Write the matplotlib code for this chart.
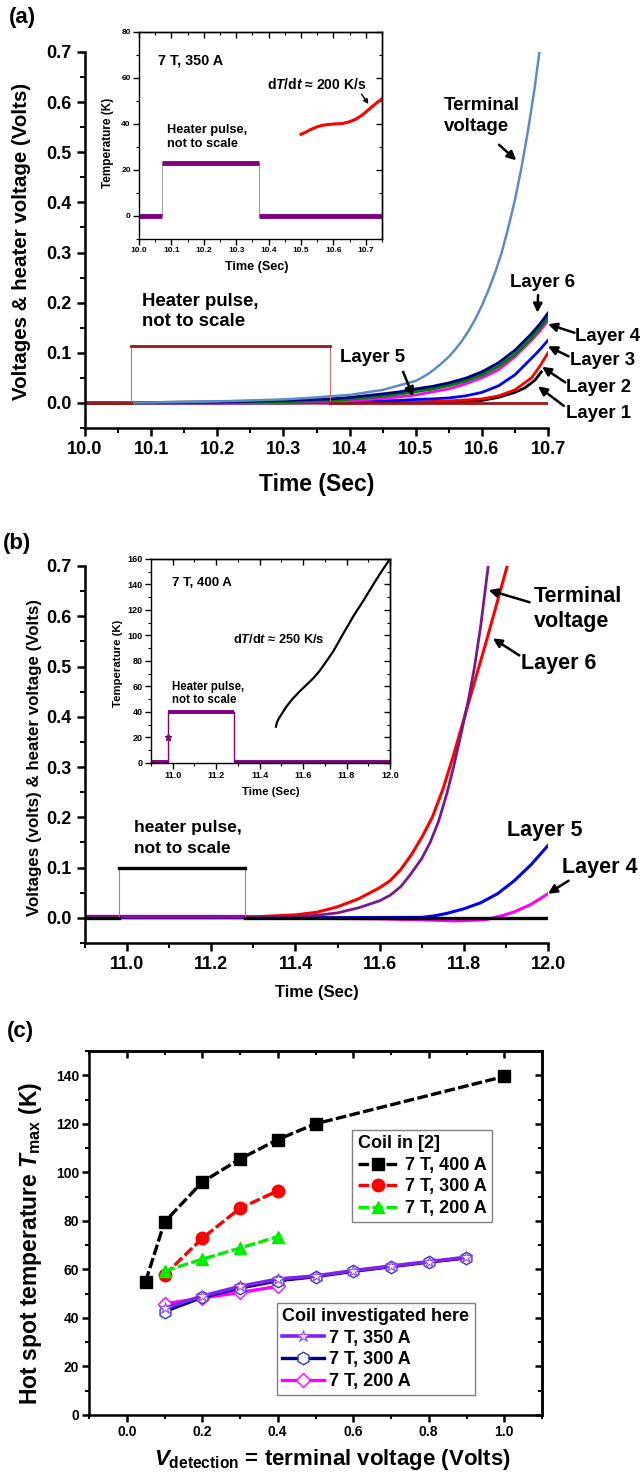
import matplotlib
matplotlib.use('Agg')
import matplotlib.pyplot as plt
from matplotlib.ticker import MultipleLocator, FormatStrFormatter

plt.rcParams['font.family'] = ['Liberation Sans', 'DejaVu Sans']
plt.rcParams['font.weight'] = 'bold'
plt.rcParams['axes.labelweight'] = 'bold'
plt.rcParams['mathtext.fontset'] = 'custom'
plt.rcParams['mathtext.rm'] = 'Liberation Sans:bold'
plt.rcParams['mathtext.it'] = 'Liberation Sans:italic:bold'
plt.rcParams['mathtext.bf'] = 'Liberation Sans:bold'

# ------------------------------------------------------------------ data
# Panel (a): 7 T, 350 A
a_layer_t = [10.0, 10.1, 10.2, 10.3, 10.37, 10.4, 10.45, 10.475, 10.5, 10.525, 10.55, 10.575,
             10.6, 10.625, 10.65, 10.675, 10.6875, 10.7]
a_layer6 = [0.0, 0.001, 0.002, 0.005, 0.008, 0.011, 0.018, 0.022, 0.028, 0.033, 0.040, 0.049,
            0.062, 0.080, 0.105, 0.138, 0.157, 0.179]
a_layer5 = [0.0, 0.0005, 0.001, 0.003, 0.005, 0.008, 0.014, 0.018, 0.023, 0.028, 0.035, 0.044,
            0.056, 0.073, 0.097, 0.130, 0.149, 0.171]
a_layer4 = [0.0, 0.0, 0.0, 0.001, 0.002, 0.004, 0.009, 0.012, 0.016, 0.022, 0.028, 0.038,
            0.050, 0.066, 0.092, 0.125, 0.143, 0.164]
a_layer3 = [0.0, 0.0, 0.0, 0.0, 0.001, 0.002, 0.004, 0.005, 0.007, 0.008, 0.010, 0.014,
            0.021, 0.034, 0.056, 0.089, 0.106, 0.125]
a_layer2 = [0.0, 0.0, 0.0, 0.0, 0.0, 0.0, 0.001, 0.0015, 0.002, 0.003, 0.004, 0.006,
            0.008, 0.014, 0.026, 0.050, 0.073, 0.100]
a_layer1_t = [10.0, 10.3, 10.4, 10.5, 10.55, 10.6, 10.625, 10.65, 10.665, 10.68, 10.69]
a_layer1 = [0.0, 0.0, 0.0, 0.001, 0.002, 0.005, 0.011, 0.021, 0.030, 0.045, 0.062]
a_term_t = [10.0, 10.1, 10.2, 10.3, 10.35, 10.4, 10.45, 10.5, 10.51, 10.52, 10.53, 10.54, 10.55,
            10.56, 10.57, 10.58, 10.59, 10.6, 10.61, 10.62, 10.63, 10.64, 10.65, 10.66, 10.67,
            10.68, 10.687]
a_term_v = [0.0, 0.001, 0.003, 0.007, 0.011, 0.016, 0.026, 0.044, 0.051, 0.059, 0.069, 0.080,
            0.092, 0.107, 0.124, 0.144, 0.167, 0.194, 0.225, 0.260, 0.300, 0.350, 0.405, 0.470,
            0.545, 0.630, 0.700]
a_heater_t = [10.0, 10.07, 10.07, 10.37, 10.37, 10.7]
a_heater_v = [0.0, 0.0, 0.113, 0.113, 0.0, 0.0]
# inset (a)
ai_heater_t = [10.0, 10.07, 10.07, 10.37, 10.37, 10.75]
ai_heater_T = [0.0, 0.0, 23.0, 23.0, 0.0, 0.0]
ai_temp_t = [10.5, 10.515, 10.53, 10.55, 10.565, 10.58, 10.6, 10.627, 10.65, 10.668, 10.69,
             10.71, 10.73, 10.75]
ai_temp_T = [35.5, 36.5, 37.6, 38.8, 39.4, 39.7, 40.0, 40.2, 41.0, 42.0, 44.0, 46.4, 48.8, 51.0]

# Panel (b): 7 T, 400 A
b_term_t = [10.9, 11.0, 11.1, 11.2, 11.3, 11.4, 11.45, 11.5, 11.55, 11.6, 11.625, 11.65, 11.672,
            11.7, 11.72, 11.74, 11.76, 11.775, 11.79, 11.81, 11.825, 11.84, 11.858]
b_term_v = [0.003, 0.003, 0.003, 0.003, 0.002, 0.003, 0.005, 0.010, 0.020, 0.034, 0.045, 0.062,
            0.085, 0.118, 0.150, 0.192, 0.248, 0.298, 0.353, 0.430, 0.497, 0.580, 0.700]
b_layer6_t = [10.9, 11.0, 11.1, 11.2, 11.3, 11.4, 11.45, 11.5, 11.55, 11.6, 11.625, 11.65,
              11.675, 11.7, 11.725, 11.75, 11.775, 11.8, 11.825, 11.85, 11.875, 11.903]
b_layer6 = [0.002, 0.002, 0.002, 0.002, 0.002, 0.006, 0.011, 0.022, 0.038, 0.060, 0.074, 0.096,
            0.125, 0.160, 0.200, 0.255, 0.322, 0.395, 0.468, 0.540, 0.615, 0.700]
b_layer5_t = [10.9, 11.3, 11.7, 11.73, 11.76, 11.8, 11.84, 11.88, 11.92, 11.96, 12.0]
b_layer5 = [0.0, 0.0, 0.001, 0.004, 0.009, 0.018, 0.030, 0.048, 0.074, 0.106, 0.144]
b_layer4_t = [10.9, 11.28, 11.3, 11.6, 11.7, 11.78, 11.85, 11.894, 11.92, 11.96, 12.0]
b_layer4 = [0.003, 0.003, 0.0, -0.002, -0.004, -0.006, -0.004, 0.005, 0.012, 0.027, 0.048]
b_heater_t = [10.9, 10.98, 10.98, 11.28, 11.28, 12.0]
b_heater_v = [0.0, 0.0, 0.1, 0.1, 0.0, 0.0]
# inset (b)
bi_heater_t = [10.9, 10.98, 10.98, 10.98, 11.28, 11.28, 12.0]
bi_heater_T = [1.0, 1.0, 20.0, 40.0, 40.0, 1.0, 1.0]
bi_temp_t = [11.475, 11.48, 11.49, 11.5, 11.524, 11.55, 11.586, 11.62, 11.647, 11.675, 11.7,
             11.739, 11.78, 11.831, 11.88, 11.923, 11.96, 12.0]
bi_temp_T = [28.5, 32.0, 35.5, 38.0, 44.4, 50.0, 56.5, 62.0, 66.5, 72.0, 78.0, 87.6, 100.0,
             115.0, 128.0, 140.0, 150.0, 160.0]

# Panel (c)
c_v400 = [0.05, 0.1, 0.2, 0.3, 0.4, 0.5, 1.0]
c_T400 = [55.0, 79.5, 96.0, 105.5, 113.5, 120.0, 139.5]
c_v300 = [0.1, 0.2, 0.3, 0.4]
c_T300 = [57.7, 72.8, 85.2, 92.4]
c_v200 = [0.1, 0.2, 0.3, 0.4]
c_T200 = [59.3, 64.2, 68.8, 73.5]
h_v350 = [0.1, 0.2, 0.3, 0.4, 0.5, 0.6, 0.7, 0.8, 0.9]
h_T350 = [44.0, 49.0, 53.0, 56.0, 57.3, 59.5, 61.4, 63.2, 65.0]
h_v300 = [0.1, 0.2, 0.3, 0.4, 0.5, 0.6, 0.7, 0.8, 0.9]
h_T300 = [42.6, 48.5, 52.3, 55.3, 57.0, 59.2, 61.1, 63.0, 64.7]
h_v200 = [0.1, 0.2, 0.3, 0.4]
h_T200 = [45.8, 48.2, 50.5, 53.0]

# ------------------------------------------------------------------ figure
W, H = 640, 1479
fig = plt.figure(figsize=(W / 100, H / 100), dpi=100)


def add_ax(l, t, r, b):
    return fig.add_axes([l / W, 1 - b / H, (r - l) / W, (b - t) / H])


def ftext(x, y, s, **kw):
    return fig.text(x / W, 1 - y / H, s, ha=kw.pop('ha', 'center'), va=kw.pop('va', 'center'), **kw)


def open_axes(ax, xmaj, xmin, ymaj, ymin, size, lw, xfmt, yfmt):
    for s in ('top', 'right'):
        ax.spines[s].set_visible(False)
    for s in ('left', 'bottom'):
        ax.spines[s].set_linewidth(lw)
    ax.xaxis.set_major_locator(MultipleLocator(xmaj))
    ax.xaxis.set_minor_locator(MultipleLocator(xmin))
    ax.yaxis.set_major_locator(MultipleLocator(ymaj))
    ax.yaxis.set_minor_locator(MultipleLocator(ymin))
    ax.xaxis.set_major_formatter(FormatStrFormatter(xfmt))
    ax.yaxis.set_major_formatter(FormatStrFormatter(yfmt))
    ax.tick_params(which='major', direction='out', length=6, width=lw, labelsize=size)
    ax.tick_params(which='minor', direction='out', length=3.5, width=lw * 0.8)
    for lab in ax.get_xticklabels() + ax.get_yticklabels():
        lab.set_fontweight('bold')


def box_axes(ax, xmaj, xmin, ymaj, ymin, size, lw, xfmt, yfmt, mlen=4, nlen=2.5):
    for s in ax.spines.values():
        s.set_linewidth(lw)
    ax.xaxis.set_major_locator(MultipleLocator(xmaj))
    ax.xaxis.set_minor_locator(MultipleLocator(xmin))
    ax.yaxis.set_major_locator(MultipleLocator(ymaj))
    ax.yaxis.set_minor_locator(MultipleLocator(ymin))
    ax.xaxis.set_major_formatter(FormatStrFormatter(xfmt))
    ax.yaxis.set_major_formatter(FormatStrFormatter(yfmt))
    ax.tick_params(which='major', direction='out', length=mlen, width=lw, labelsize=size, pad=2)
    ax.tick_params(which='minor', direction='out', length=nlen, width=lw * 0.8)
    for lab in ax.get_xticklabels() + ax.get_yticklabels():
        lab.set_fontweight('bold')
    sx = ax.secondary_xaxis('top')
    sx.xaxis.set_major_locator(MultipleLocator(xmaj))
    sx.xaxis.set_minor_locator(MultipleLocator(xmin))
    sx.tick_params(which='major', direction='in', length=mlen, width=lw, labeltop=False)
    sx.tick_params(which='minor', direction='in', length=nlen, width=lw * 0.8)
    sx.spines['top'].set_linewidth(lw)
    sy = ax.secondary_yaxis('right')
    sy.yaxis.set_major_locator(MultipleLocator(ymaj))
    sy.yaxis.set_minor_locator(MultipleLocator(ymin))
    sy.tick_params(which='major', direction='in', length=mlen, width=lw, labelright=False)
    sy.tick_params(which='minor', direction='in', length=nlen, width=lw * 0.8)
    sy.spines['right'].set_linewidth(lw)


arrow = dict(arrowstyle='-|>', color='black', lw=1.8, mutation_scale=13, shrinkA=0, shrinkB=0)
small_arrow = dict(arrowstyle='-|>', color='black', lw=1.0, mutation_scale=7, shrinkA=0, shrinkB=0)

# ================================================================== panel (a)
ax = add_ax(85, 52, 548, 428)
ax.set_xlim(10.0, 10.7)
ax.set_ylim(-0.05, 0.7)
open_axes(ax, 0.1, 0.05, 0.1, 0.05, 13, 1.8, '%.1f', '%.1f')

ax.plot(a_layer1_t, a_layer1, color='black', lw=2.0)
ax.plot(a_layer_t, a_layer2, color='#ff0000', lw=2.0)
ax.plot(a_layer_t, a_layer3, color='#0000ff', lw=2.0)
ax.plot(a_layer_t, a_layer4, color='#ff00ff', lw=2.0)
ax.plot(a_layer_t, a_layer5, color='#008000', lw=2.4)
ax.plot(a_layer_t, a_layer6, color='#000080', lw=2.0)
ax.plot(a_term_t, a_term_v, color='#5b8cc8', lw=1.8)
ax.plot(a_heater_t, a_heater_v, color='#c87070', lw=0.8)
for i in (0, 2, 4):
    ax.plot(a_heater_t[i:i + 2], a_heater_v[i:i + 2], color='#9b1515', lw=2.0)

ax.text(10.086, 0.183, 'Heater pulse,\nnot to scale', fontsize=13.4, ha='left', va='center',
        linespacing=1.25)
ax.text(10.543, 0.573, 'Terminal\nvoltage', fontsize=13.4, ha='left', va='center', linespacing=1.3)
ax.annotate('', xy=(10.652, 0.484), xytext=(10.626, 0.515), arrowprops=arrow)
ax.text(10.691, 0.240, 'Layer 6', fontsize=13.4, ha='center', va='center')
ax.annotate('', xy=(10.684, 0.180), xytext=(10.685, 0.215), arrowprops=arrow)
ax.text(10.741, 0.132, 'Layer 4', fontsize=13.4, ha='left', va='center', clip_on=False)
ax.annotate('', xy=(10.700, 0.157), xytext=(10.740, 0.140), arrowprops=arrow, annotation_clip=False)
ax.text(10.733, 0.084, 'Layer 3', fontsize=13.4, ha='left', va='center')
ax.annotate('', xy=(10.700, 0.113), xytext=(10.731, 0.093), arrowprops=arrow, annotation_clip=False)
ax.text(10.727, 0.031, 'Layer 2', fontsize=13.4, ha='left', va='center')
ax.annotate('', xy=(10.691, 0.072), xytext=(10.726, 0.041), arrowprops=arrow, annotation_clip=False)
ax.text(10.727, -0.021, 'Layer 1', fontsize=13.4, ha='left', va='center')
ax.annotate('', xy=(10.685, 0.033), xytext=(10.724, -0.006), arrowprops=arrow, annotation_clip=False)
ax.text(10.386, 0.090, 'Layer 5', fontsize=13.4, ha='left', va='center')
ax.annotate('', xy=(10.496, 0.013), xytext=(10.481, 0.062), arrowprops=arrow)

ftext(317, 485, 'Time (Sec)', fontsize=16.5, fontweight='bold')
ftext(22, 241, 'Voltages & heater voltage (Volts)', fontsize=14.8, fontweight='bold', rotation=90)
ftext(22, 18, '(a)', fontsize=16, fontweight='bold')

# inset (a)
ia = add_ax(139, 32, 382, 239)
ia.set_xlim(10.0, 10.75)
ia.set_ylim(-10, 80)
box_axes(ia, 0.1, 0.05, 20, 10, 6, 1.0, '%.1f', '%d')
ia.plot(ai_heater_t, ai_heater_T, color='#a0a0a0', lw=0.7)
for i in (0, 2, 4):
    ia.plot(ai_heater_t[i:i + 2], ai_heater_T[i:i + 2], color='#800080', lw=3.5, solid_capstyle='butt')
ia.plot(ai_temp_t, ai_temp_T, color='#ff0000', lw=2.2)
ia.text(10.059, 67.8, '7 T, 350 A', fontsize=10.4, ha='left', va='center')
ia.text(10.086, 34.4, 'Heater pulse,\nnot to scale', fontsize=9.2, ha='left', va='center',
        linespacing=1.2)
ia.text(10.395, 57, 'd$T$/d$t$ ≈ 200 K/s', fontsize=10, ha='left', va='center')
ia.annotate('', xy=(10.708, 48.7), xytext=(10.687, 53.0), arrowprops=small_arrow)
ftext(257, 267, 'Time (Sec)', fontsize=9.1, fontweight='bold')
ftext(108, 143, 'Temperature (K)', fontsize=8.5, fontweight='bold', rotation=90)

# ================================================================== panel (b)
bx = add_ax(85, 566, 548, 943)
bx.set_xlim(10.9, 12.0)
bx.set_ylim(-0.05, 0.7)
open_axes(bx, 0.2, 0.1, 0.1, 0.05, 13, 1.8, '%.1f', '%.1f')

bx.plot(b_layer4_t, b_layer4, color='#ff00ff', lw=2.2)
bx.plot(b_layer5_t, b_layer5, color='#0000ff', lw=2.2)
bx.plot(b_layer6_t, b_layer6, color='#ff0000', lw=2.2)
bx.plot(b_term_t, b_term_v, color='#7a1a8a', lw=2.0)
bx.plot(b_heater_t, b_heater_v, color='#909090', lw=0.8)
for i in (0, 2, 4):
    bx.plot(b_heater_t[i:i + 2], b_heater_v[i:i + 2], color='black', lw=2.4)

bx.text(11.017, 0.158, 'heater pulse,\nnot to scale', fontsize=12.5, ha='left', va='center',
        linespacing=1.5)
bx.text(11.967, 0.614, 'Terminal\nvoltage', fontsize=15.5, ha='left', va='center', linespacing=1.25)
bx.annotate('', xy=(11.859, 0.652), xytext=(11.956, 0.628), arrowprops=arrow)
bx.text(11.936, 0.506, 'Layer 6', fontsize=15.5, ha='left', va='center')
bx.annotate('', xy=(11.869, 0.556), xytext=(11.932, 0.522), arrowprops=arrow)
bx.text(11.903, 0.174, 'Layer 5', fontsize=15.5, ha='left', va='center')
bx.text(12.034, 0.101, 'Layer 4', fontsize=15.5, ha='left', va='center')
bx.annotate('', xy=(12.0, 0.048), xytext=(12.049, 0.074), arrowprops=arrow, annotation_clip=False)

ftext(317, 992, 'Time (Sec)', fontsize=12, fontweight='bold')
ftext(35, 757, 'Voltages (volts) & heater voltage (Volts)', fontsize=12.2, fontweight='bold',
      rotation=90)
ftext(17, 543, '(b)', fontsize=16, fontweight='bold')

# inset (b)
ib = add_ax(151, 559, 390, 763)
ib.set_xlim(10.9, 12.0)
ib.set_ylim(0, 160)
box_axes(ib, 0.2, 0.1, 20, 10, 6.5, 1.0, '%.1f', '%d')
ib.plot(bi_heater_t, bi_heater_T, color='#800080', lw=1.0, marker='*', markersize=5,
        markevery=[2])
for i in (0, 3, 5):
    ib.plot(bi_heater_t[i:i + 2], bi_heater_T[i:i + 2], color='#800080', lw=2.8, solid_capstyle='butt')
ib.plot(bi_temp_t, bi_temp_T, color='black', lw=1.6)
ib.text(10.997, 141, '7 T, 400 A', fontsize=9.5, ha='left', va='center')
ib.text(10.997, 54.5, 'Heater pulse,\nnot to scale', fontsize=8.3, ha='left', va='center',
        linespacing=1.2)
ib.text(11.277, 96.5, 'd$T$/d$t$ ≈ 250 K/s', fontsize=9.2, ha='left', va='center')
ftext(271, 792, 'Time (Sec)', fontsize=8.2, fontweight='bold')
ftext(118, 663, 'Temperature (K)', fontsize=8.2, fontweight='bold', rotation=90)

# ================================================================== panel (c)
cx = add_ax(89, 1051, 542, 1415)
cx.set_xlim(-0.1, 1.1)
cx.set_ylim(0, 150)
box_axes(cx, 0.2, 0.1, 20, 10, 10, 1.8, '%.1f', '%d', mlen=5, nlen=3)

dash = (0, (3.2, 1.0))
l400, = cx.plot(c_v400, c_T400, color='black', lw=2.4, ls=dash, marker='s', markersize=8,
                label='7 T, 400 A')
l300, = cx.plot(c_v300, c_T300, color='#ff0000', lw=2.4, ls=dash, marker='o', markersize=9,
                label='7 T, 300 A')
l200, = cx.plot(c_v200, c_T200, color='#00ee00', lw=2.4, ls=dash, marker='^', markersize=9,
                label='7 T, 200 A')
k200, = cx.plot(h_v200, h_T200, color='#ff00ff', lw=2.4, marker='D', markersize=7.5,
                markerfacecolor='white', markeredgecolor='#ff00ff', markeredgewidth=1.0,
                label='7 T, 200 A')
k300, = cx.plot(h_v300, h_T300, color='#000080', lw=2.4, marker='h', markersize=9,
                markerfacecolor='white', markeredgecolor='#3333dd', markeredgewidth=1.0,
                label='7 T, 300 A')
k350, = cx.plot(h_v350, h_T350, color='#7f22ee', lw=2.6, marker='*', markersize=9,
                markerfacecolor='white', markeredgecolor='#9a44ff', markeredgewidth=0.8,
                label='7 T, 350 A')

leg_kw = dict(frameon=True, fancybox=False, edgecolor='#808080', framealpha=1,
              prop={'size': 13, 'weight': 'bold'}, handlelength=2.3, handletextpad=0.3,
              borderpad=0.3, labelspacing=0.25, borderaxespad=0, alignment='left')
leg1 = cx.legend(handles=[l400, l300, l200], title='Coil in [2]', loc='upper left',
                 bbox_to_anchor=(0.581, 0.783), title_fontproperties={'size': 13, 'weight': 'bold'},
                 **leg_kw)
leg1.get_frame().set_linewidth(1.0)
cx.add_artist(leg1)
leg2 = cx.legend(handles=[k350, k300, k200], title='Coil investigated here', loc='upper left',
                 bbox_to_anchor=(0.415, 0.308), title_fontproperties={'size': 13, 'weight': 'bold'},
                 **leg_kw)
leg2.get_frame().set_linewidth(1.0)

ftext(332, 1460, '$V_{\\mathrm{detection}}$ = terminal voltage (Volts)', fontsize=16,
      fontweight='bold')
ftext(31, 1243, 'Hot spot temperature $T_{\\mathrm{max}}$ (K)', fontsize=16.5, fontweight='bold',
      rotation=90)
ftext(20, 1032, '(c)', fontsize=16, fontweight='bold')

fig.savefig('out.png', dpi=100)
